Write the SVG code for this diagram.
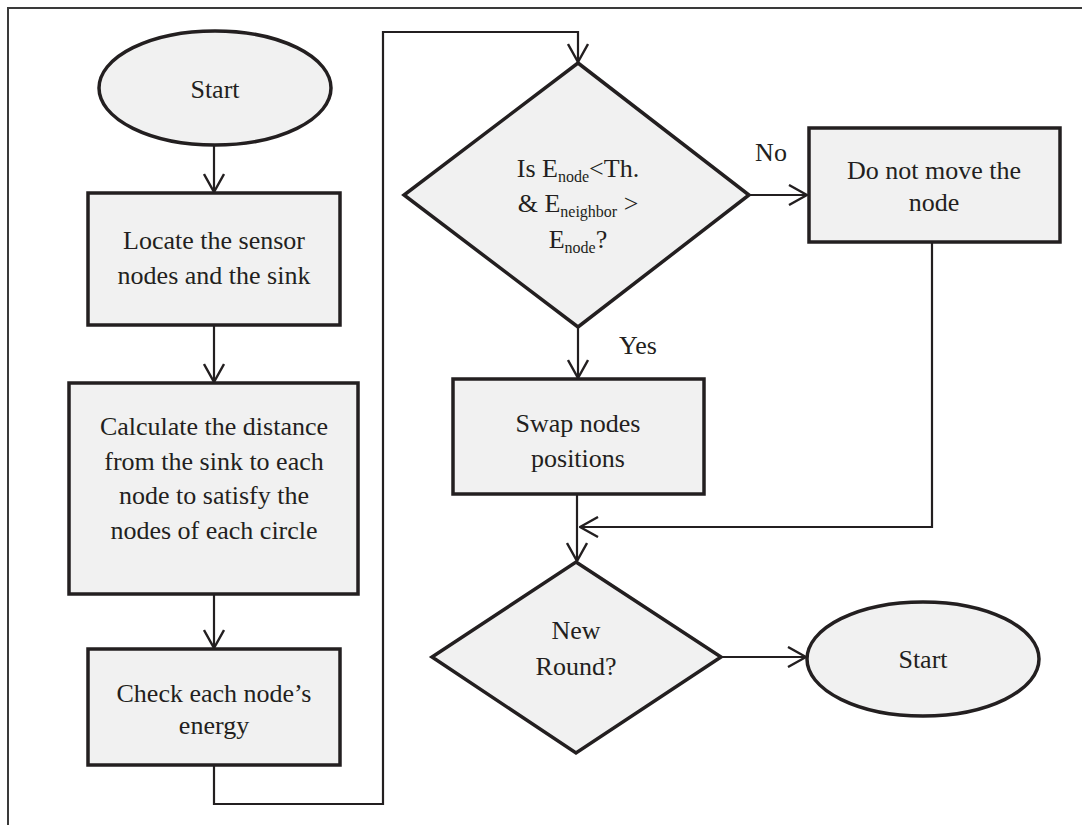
<svg xmlns="http://www.w3.org/2000/svg" width="1082" height="825" viewBox="0 0 1082 825">
<style>
.shape{fill:#f1f1f1;stroke:#231f20;stroke-width:3.5}
.conn{fill:none;stroke:#231f20;stroke-width:2.2}
.t{font-family:"Liberation Serif","Times New Roman",serif;font-size:26px;fill:#231f20;text-anchor:middle}
.s{font-size:16px}
.frame{fill:none;stroke:#3a3a3a;stroke-width:2}
</style>
<defs>
<marker id="arr" markerUnits="userSpaceOnUse" viewBox="0 0 20 22" markerWidth="20" markerHeight="22" refX="19" refY="11" orient="auto">
<path d="M1,1 L19,11 L1,21" fill="none" stroke="#231f20" stroke-width="2.4"/>
</marker>
</defs>
<rect width="1082" height="825" fill="#ffffff"/>
<path class="frame" d="M8,825 L8,8 L1082,8"/>

<g id="connectors">
<line class="conn" x1="214" y1="146" x2="214" y2="192" marker-end="url(#arr)"/>
<line class="conn" x1="214" y1="325" x2="214" y2="382" marker-end="url(#arr)"/>
<line class="conn" x1="214" y1="594" x2="214" y2="648" marker-end="url(#arr)"/>
<polyline class="conn" points="214,765 214,804 383,804 383,32 578,32 578,62" marker-end="url(#arr)"/>
<line class="conn" x1="749" y1="195" x2="807" y2="195" marker-end="url(#arr)"/>
<line class="conn" x1="578" y1="327" x2="578" y2="378" marker-end="url(#arr)"/>
<line class="conn" x1="577" y1="494" x2="577" y2="561" marker-end="url(#arr)"/>
<polyline class="conn" points="932,242 932,527 580,527" marker-end="url(#arr)"/>
<line class="conn" x1="721" y1="657" x2="806" y2="657" marker-end="url(#arr)"/>
<text class="t" x="771" y="161">No</text>
<text class="t" x="638" y="354">Yes</text>
</g>

<g id="start">
<ellipse class="shape" cx="215" cy="88" rx="116" ry="57"/>
<text class="t" x="215" y="98">Start</text>
</g>

<g id="locate">
<rect class="shape" x="88" y="193" width="252" height="132"/>
<text class="t" x="214" y="249">Locate the sensor</text>
<text class="t" x="214" y="284">nodes and the sink</text>
</g>

<g id="calculate">
<rect class="shape" x="69" y="383" width="289" height="211"/>
<text class="t" x="214" y="435">Calculate the distance</text>
<text class="t" x="214" y="470">from the sink to each</text>
<text class="t" x="214" y="504">node to satisfy the</text>
<text class="t" x="214" y="539">nodes of each circle</text>
</g>

<g id="check">
<rect class="shape" x="88" y="649" width="252" height="116"/>
<text class="t" x="214" y="702">Check each node’s</text>
<text class="t" x="214" y="734">energy</text>
</g>

<g id="decision1">
<polygon class="shape" points="578,63 749,195 578,327 404,195"/>
<text class="t" x="578" y="177">Is E<tspan class="s" dy="5">node</tspan><tspan dy="-5">&lt;Th.</tspan></text>
<text class="t" x="578" y="212">&amp; E<tspan class="s" dy="5">neighbor</tspan><tspan dy="-5"> &gt;</tspan></text>
<text class="t" x="578" y="248">E<tspan class="s" dy="5">node</tspan><tspan dy="-5">?</tspan></text>
</g>

<g id="donotmove">
<rect class="shape" x="809" y="128" width="251" height="114"/>
<text class="t" x="934" y="179">Do not move the</text>
<text class="t" x="934" y="211">node</text>
</g>

<g id="swap">
<rect class="shape" x="453" y="379" width="251" height="115"/>
<text class="t" x="578" y="432">Swap nodes</text>
<text class="t" x="578" y="467">positions</text>
</g>

<g id="decision2">
<polygon class="shape" points="576,562 721,657 576,753 432,657"/>
<text class="t" x="576" y="639">New</text>
<text class="t" x="576" y="675">Round?</text>
</g>

<g id="end">
<ellipse class="shape" cx="923" cy="659" rx="116" ry="57"/>
<text class="t" x="923" y="668">Start</text>
</g>
</svg>
